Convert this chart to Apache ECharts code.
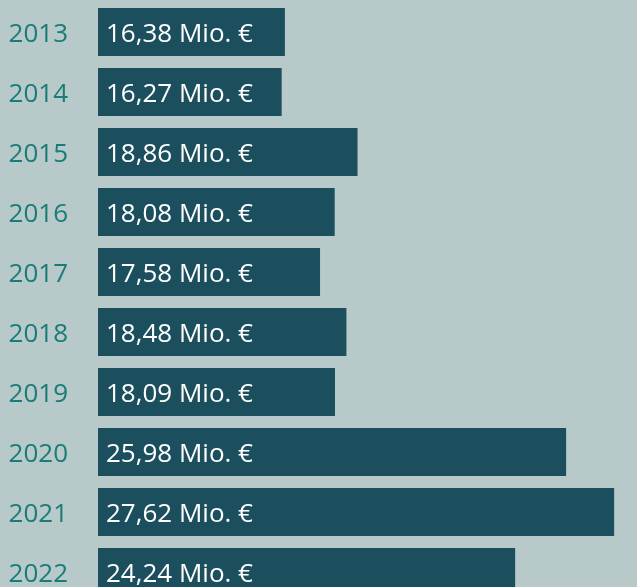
<!DOCTYPE html>
<html>
<head>
<meta charset="utf-8">
<script src="https://cdn.jsdelivr.net/npm/echarts@6/dist/echarts.min.js"></script>
<style>
html,body{margin:0;padding:0;background:#b7c9c9;overflow:hidden;}
#chart{width:637px;height:602px;}
</style>
</head>
<body>
<div id="chart"></div>
<script>
const years = ['2013','2014','2015','2016','2017','2018','2019','2020','2021','2022'];
const values = [16.38, 16.27, 18.86, 18.08, 17.58, 18.48, 18.09, 25.98, 27.62, 24.24];
const unit = ' Mio. €';

const chart = echarts.init(document.getElementById('chart'));
chart.setOption({
  backgroundColor: '#b7c9c9',
  animation: false,
  grid: { left: 98, right: 0, top: 2, bottom: 0, containLabel: false },
  xAxis: {
    type: 'value', min: 10, max: 28.4, show: false,
    splitLine: { show: false }
  },
  yAxis: {
    type: 'category', data: years, inverse: true,
    axisLine: { show: false }, axisTick: { show: false },
    axisLabel: {
      color: '#187c78', fontFamily: 'Open Sans', fontSize: 26, margin: 30,
      verticalAlign: 'top', lineHeight: 6
    }
  },
  series: [{
    type: 'bar',
    data: values,
    barWidth: 48,
    itemStyle: { color: '#1c4f5e' },
    label: {
      show: true, position: 'insideLeft', distance: 8, offset: [0, 3],
      color: '#ffffff', fontFamily: 'Open Sans', fontSize: 26,
      formatter: p => p.value.toFixed(2).replace('.', ',') + unit
    }
  }]
});
</script>
</body>
</html>
